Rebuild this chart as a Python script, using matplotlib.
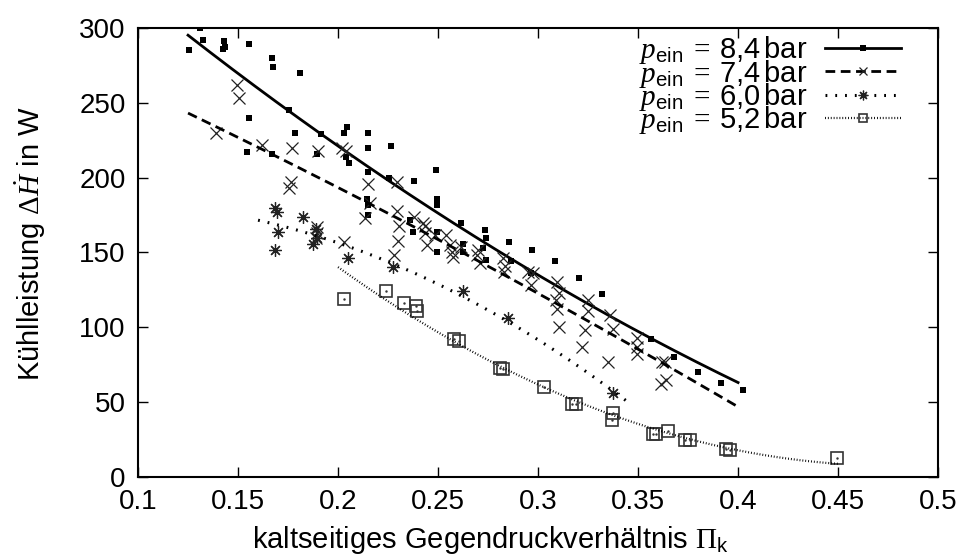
import numpy as np
import matplotlib
matplotlib.use("Agg")
import matplotlib.pyplot as plt
from matplotlib.lines import Line2D

plt.rcParams['font.family'] = ['Liberation Sans', 'DejaVu Sans']
plt.rcParams['mathtext.fontset'] = 'custom'
plt.rcParams['mathtext.rm'] = 'Liberation Serif'
plt.rcParams['mathtext.it'] = 'Liberation Serif:italic'
plt.rcParams['mathtext.sf'] = 'Liberation Sans'

# 8,4 bar
x84 = [0.131, 0.1325, 0.1255, 0.143, 0.1435, 0.1425, 0.1555, 0.167, 0.1675, 0.181,
       0.1555, 0.1755, 0.1785, 0.1545, 0.167, 0.1915, 0.1895, 0.203, 0.2045, 0.204,
       0.2055, 0.215, 0.215, 0.215, 0.2145, 0.215, 0.215, 0.2265, 0.249, 0.2255,
       0.238, 0.2495, 0.2495, 0.236, 0.2375, 0.2495, 0.2495, 0.2615, 0.2625, 0.2625,
       0.2735, 0.274, 0.2725, 0.274, 0.2855, 0.2865, 0.297, 0.2965, 0.3085, 0.3205,
       0.332, 0.3565, 0.368, 0.38, 0.3915, 0.4025]
y84 = [300, 292, 285, 291, 287, 286, 289, 280, 274, 270,
       240, 245, 230, 217, 216, 229, 216, 230, 234, 214,
       210, 230, 220, 204, 186, 182, 175, 221, 205, 200,
       198, 186, 182, 172, 164, 164, 150, 170, 156, 150,
       165, 160, 153, 145, 157, 144, 152, 136, 144, 133,
       122, 92, 80, 70, 63, 58]

# 7,4 bar
x74 = [0.1495, 0.1505, 0.139, 0.162, 0.177, 0.19, 0.202, 0.204, 0.1765, 0.1755,
       0.215, 0.2135, 0.1895, 0.1895, 0.189, 0.203, 0.2295, 0.216, 0.2295, 0.2305,
       0.238, 0.2425, 0.2435, 0.2435, 0.2445, 0.23, 0.228, 0.2485, 0.254, 0.256,
       0.257, 0.2575, 0.2615, 0.27, 0.2695, 0.271, 0.2825, 0.2835, 0.283, 0.295,
       0.2975, 0.2965, 0.3095, 0.3105, 0.309, 0.3095, 0.325, 0.325, 0.3105, 0.3235,
       0.336, 0.3375, 0.3495, 0.3495, 0.3495, 0.335, 0.362, 0.3635, 0.364, 0.3615,
       0.322]
y74 = [262, 253, 230, 222, 220, 218, 220, 218, 197, 193,
       196, 173, 167, 163, 160, 157, 197, 183, 178, 168,
       174, 170, 168, 163, 155, 158, 148, 162, 162, 155,
       150, 147, 154, 152, 148, 143, 146, 141, 137, 137,
       136, 128, 130, 123, 118, 112, 118, 111, 100, 98,
       108, 99, 93, 87, 82, 77, 77, 77, 65, 62,
       87]

# 6,0 bar
x60 = [0.1685, 0.1695, 0.1825, 0.17, 0.1875, 0.1685, 0.189, 0.1895, 0.205, 0.2275,
       0.2625, 0.285, 0.3375]
y60 = [180, 177, 174, 164, 156, 152, 166, 160, 146, 140,
       124, 106, 56]

# 5,2 bar
x52 = [0.203, 0.224, 0.233, 0.239, 0.2395, 0.258, 0.2605, 0.281, 0.2825, 0.303,
       0.317, 0.319, 0.3375, 0.337, 0.3575, 0.359, 0.365, 0.3735, 0.376, 0.394,
       0.396, 0.4495]
y52 = [119, 124, 116, 114, 111, 92, 91, 73, 72, 60,
       49, 49, 43, 38, 29, 29, 31, 25, 25, 19,
       18, 13]

labels = ['8{,}4', '7{,}4', '6{,}0', '5{,}2']
fit_ranges = [(0.125, 0.4), (0.125, 0.4), (0.16, 0.345), (0.2, 0.45)]

fig = plt.figure(figsize=(9.64, 5.58), dpi=100)
ax = fig.add_axes([0.1432, 0.1452, 0.8299, 0.8046])

series = [(x84, y84), (x74, y74), (x60, y60), (x52, y52)]
linestyles = ['-', (0, (3.5, 2)), (0, (0.6, 2.6)), (0, (0.4, 0.9))]
linewidths = [2.0, 2.0, 2.2, 1.6]
markers = [dict(marker='s', ms=4.5, mfc='black', mec='black', mew=0),
           dict(marker='x', ms=8, mfc='none', mec='#222222', mew=0.9),
           dict(marker=(8, 2, 0), ms=9, mfc='none', mec='#222222', mew=0.9),
           dict(marker='s', ms=8, mfc='none', mec='#333333', mew=1.2)]
leg_ms = [5, 6, 7, 6]

handles = []
for (xs, ys), ls, lw, mk, rng, lab, lms in zip(series, linestyles, linewidths, markers,
                                               fit_ranges, labels, leg_ms):
    ax.plot(xs, ys, linestyle='none', **mk)
    coef = np.polyfit(xs, ys, 2)
    xf = np.linspace(rng[0], rng[1], 200)
    ax.plot(xf, np.polyval(coef, xf), color='black', linestyle=ls, linewidth=lw)
    hmk = dict(mk)
    hmk['ms'] = lms
    h = Line2D([], [], color='black', linestyle=ls, linewidth=lw, **hmk)
    h.set_label(r'$\mathit{p}_{\mathsf{ein}}\;=\;\mathsf{' + lab + r'}\,\mathsf{bar}$')
    handles.append(h)

# center dots of open squares
ax.plot(x52, y52, linestyle='none', marker='.', ms=1.5, color='#333333')

ax.set_xlim(0.1, 0.5)
ax.set_ylim(0, 300)
ax.set_xticks(np.arange(0.1, 0.501, 0.05))
ax.set_xticklabels(['0.1', '0.15', '0.2', '0.25', '0.3', '0.35', '0.4', '0.45', '0.5'])
ax.set_yticks(np.arange(0, 301, 50))
ax.tick_params(direction='in', length=7, width=1, top=True, right=True, labelsize=20, pad=9)
for s in ax.spines.values():
    s.set_linewidth(1.5)

ax.set_xlabel(r'kaltseitiges Gegendruckverhältnis $\mathit{\Pi}_{\mathsf{k}}$', fontsize=21)
ax.xaxis.set_label_coords(0.44, -0.105)
ax.set_ylabel(r'Kühlleistung $\Delta\dot{\mathit{H}}$ in W', fontsize=21)
ax.yaxis.set_label_coords(-0.113, 0.52)

leg = ax.legend(handles=handles, loc='upper right', frameon=False, markerfirst=False,
                fontsize=21, labelspacing=-0.3, handlelength=2.6, handletextpad=0.6,
                borderaxespad=0.0, bbox_to_anchor=(0.968, 1.012))

fig.savefig('out.png', dpi=100)
